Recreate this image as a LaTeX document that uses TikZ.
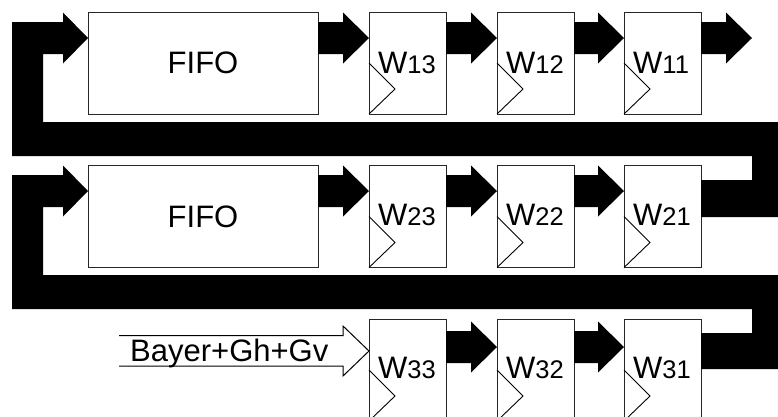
\documentclass[tikz,border=0pt]{standalone}
\usepackage{fontspec}
\setmainfont{Liberation Sans}
\usetikzlibrary{calc}
\newcommand\bigfnt{\fontsize{31}{31}\selectfont}
\newcommand\subfnt{\fontsize{25.5}{25.5}\selectfont}
% fat black arrow from node #1 (east side) to point #2 at height #3
\newcommand\fatarr[3]{%
  \fill ($(#1.east|-0,#3)+(0,-16)$) -- ($(#2|-0,#3)+(-26,-16)$) -- ($(#2|-0,#3)+(-26,-25.5)$)
     -- (#2|-0,#3) -- ($(#2|-0,#3)+(-26,25.5)$) -- ($(#2|-0,#3)+(-26,16)$)
     -- ($(#1.east|-0,#3)+(0,16)$) -- cycle;}
\tikzset{
  box/.style={draw=black!85, line width=1pt, fill=white, minimum width=77pt,
    minimum height=102pt, inner sep=0pt, outer sep=0pt, anchor=north west},
  fifobox/.style={box, minimum width=230pt, font=\bigfnt},
  lbl/.style={anchor=base west, inner sep=0pt, font=\bigfnt},
  clk/.style={draw=black, line width=0.9pt},
}
\begin{document}
\begin{tikzpicture}[x=1pt,y=-1pt]
\useasboundingbox (0,0) rectangle (778,416);
\clip (0,0) rectangle (778,416);
% boxes
\node[fifobox] (fifo1) at (88,12) {FIFO};
\node[box] (w13) at (369,12) {};
\node[box] (w12) at (497,12) {};
\node[box] (w11) at (624,12) {};
\node[fifobox] (fifo2) at (88,165.5) {FIFO};
\node[box] (w23) at (369,165.5) {};
\node[box] (w22) at (497,165.5) {};
\node[box] (w21) at (624,165.5) {};
\node[box] (w33) at (369,319) {};
\node[box] (w32) at (497,319) {};
\node[box] (w31) at (624,319) {};
\coordinate (out1) at (752,38);
% feedback bands
\fill (12,22) -- (63,22) -- (63,12.5) -- (fifo1.west|-0,38) -- (63,63.5) -- (63,54)
  -- (43,54) -- (43,122) -- (780,122) -- (780,217) -- (w21.east|-0,217)
  -- (w21.east|-0,180) -- (752,180) -- (752,156) -- (12,156) -- cycle;
\fill (12,175) -- (63,175) -- (63,165.5) -- (fifo2.west|-0,191) -- (63,216.5) -- (63,207)
  -- (43,207) -- (43,275) -- (780,275) -- (780,369) -- (w31.east|-0,369)
  -- (w31.east|-0,333) -- (752,333) -- (752,309) -- (12,309) -- cycle;
% row arrows
\fatarr{fifo1}{w13.west}{38}
\fatarr{w13}{w12.west}{38}
\fatarr{w12}{w11.west}{38}
\fatarr{w11}{out1}{38}
\fatarr{fifo2}{w23.west}{191}
\fatarr{w23}{w22.west}{191}
\fatarr{w22}{w21.west}{191}
\fatarr{w33}{w32.west}{347}
\fatarr{w32}{w31.west}{347}
% clock triangles
\foreach \b in {w13,w12,w11,w23,w22,w21,w33,w32,w31}{
  \draw[clk] (\b.west) -- ++(26,26) -- (\b.south west);
}
% labels
\node[lbl] (t13) at ($(w13.north west)+(9,61)$) {W{\subfnt 13}};
\node[lbl] (t12) at ($(w12.north west)+(9,61)$) {W{\subfnt 12}};
\node[lbl] (t11) at ($(w11.north west)+(9,61)$) {W{\subfnt 11}};
\node[lbl] (t23) at ($(w23.north west)+(9,60)$) {W{\subfnt 23}};
\node[lbl] (t22) at ($(w22.north west)+(9,60)$) {W{\subfnt 22}};
\node[lbl] (t21) at ($(w21.north west)+(9,60)$) {W{\subfnt 21}};
\node[lbl] (t33) at ($(w33.north west)+(9,59)$) {W{\subfnt 33}};
\node[lbl] (t32) at ($(w32.north west)+(9,59)$) {W{\subfnt 32}};
\node[lbl] (t31) at ($(w31.north west)+(9,59)$) {W{\subfnt 31}};
% input hollow arrow
\draw[line width=1pt, line join=miter] (119,335.5) -- (343,335.5) -- (343,326) -- (w33.west|-0,351)
  -- (343,376) -- (343,366) -- (119,366);
\node[lbl] (bayer) at (130,361) {Bayer+Gh+Gv};
\end{tikzpicture}
\end{document}
